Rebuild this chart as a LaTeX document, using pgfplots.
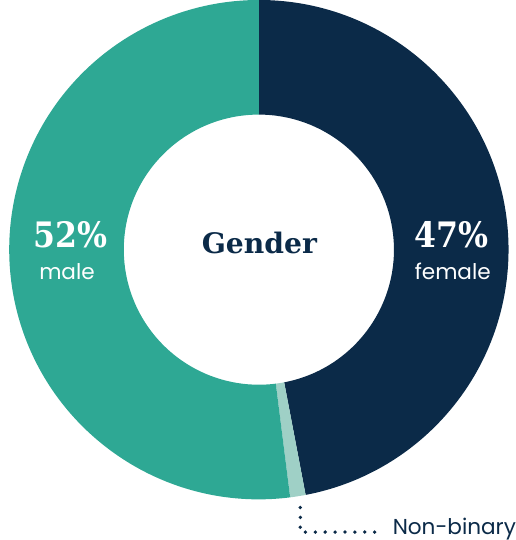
\documentclass[border=0pt]{standalone}
\usepackage{pgfplots}
\usepackage{pgfplotstable}
\pgfplotsset{compat=1.18}
\usepackage{fontspec}
\setmainfont{Poppins}
\newfontfamily\slab{DejaVu Serif}
\newfontfamily\slabn{DejaVu Serif}[FakeStretch=0.9]
\definecolor{navy}{HTML}{0B2A48}
\definecolor{teal}{HTML}{2EA894}
\definecolor{lightteal}{HTML}{9FD0C6}

\pgfplotstableread{
label value
female 47
nonbinary 1
male 52
}\gendertable

\begin{document}
\begin{tikzpicture}
\begin{axis}[
  scale only axis, width=10.5cm, height=10.8cm,
  xmin=0, xmax=525, ymin=0, ymax=540,
  hide axis, clip=false,
]
\pgfplotstablegetelem{0}{value}\of\gendertable \pgfmathtruncatemacro{\vf}{\pgfplotsretval}
\pgfplotstablegetelem{1}{value}\of\gendertable \pgfmathtruncatemacro{\vn}{\pgfplotsretval}
\pgfplotstablegetelem{2}{value}\of\gendertable \pgfmathtruncatemacro{\vm}{\pgfplotsretval}
\pgfmathsetmacro{\aA}{90}
\pgfmathsetmacro{\aB}{90-3.6*\vf}
\pgfmathsetmacro{\aC}{\aB-3.6*\vn}
\pgfmathsetmacro{\aD}{\aC-3.6*\vm}
\coordinate (c) at (axis cs:259.5,289);
\def\RR{4.88cm}
\def\rr{2.64cm}
\fill[navy] ([shift={(\aA:\RR)}]c) arc[start angle=\aA, end angle=\aB, radius=\RR]
  -- ([shift={(\aB:\rr)}]c) arc[start angle=\aB, end angle=\aA, radius=\rr] -- cycle;
\fill[lightteal] ([shift={(\aB:\RR)}]c) arc[start angle=\aB, end angle=\aC, radius=\RR]
  -- ([shift={(\aC:\rr)}]c) arc[start angle=\aC, end angle=\aB, radius=\rr] -- cycle;
\fill[teal] ([shift={(\aC:\RR)}]c) arc[start angle=\aC, end angle=\aD, radius=\RR]
  -- ([shift={(\aD:\rr)}]c) arc[start angle=\aD, end angle=\aC, radius=\rr] -- cycle;

\node[navy, font=\slab\bfseries\fontsize{15.7}{18}\selectfont] at (axis cs:260,296) {Gender};
\node[white, font=\slabn\bfseries\fontsize{19.5}{22}\selectfont] at (axis cs:448,304) {\vf\%};
\node[white, font=\fontsize{12}{14}\selectfont] at (axis cs:449,268) {female};
\node[white, font=\slabn\bfseries\fontsize{19.5}{22}\selectfont] at (axis cs:75,304) {\vm\%};
\node[white, font=\fontsize{12}{14}\selectfont] at (axis cs:72,268) {male};

\draw[navy, line width=2.1pt, dash pattern=on 0pt off 5.5pt, line cap=round]
  (axis cs:300,37) -- (axis cs:300,13) -- (axis cs:378,13);
\node[navy, anchor=west, font=\fontsize{12}{14}\selectfont, inner sep=0pt] at (axis cs:390,16) {Non-binary};
\end{axis}
\end{tikzpicture}
\end{document}
